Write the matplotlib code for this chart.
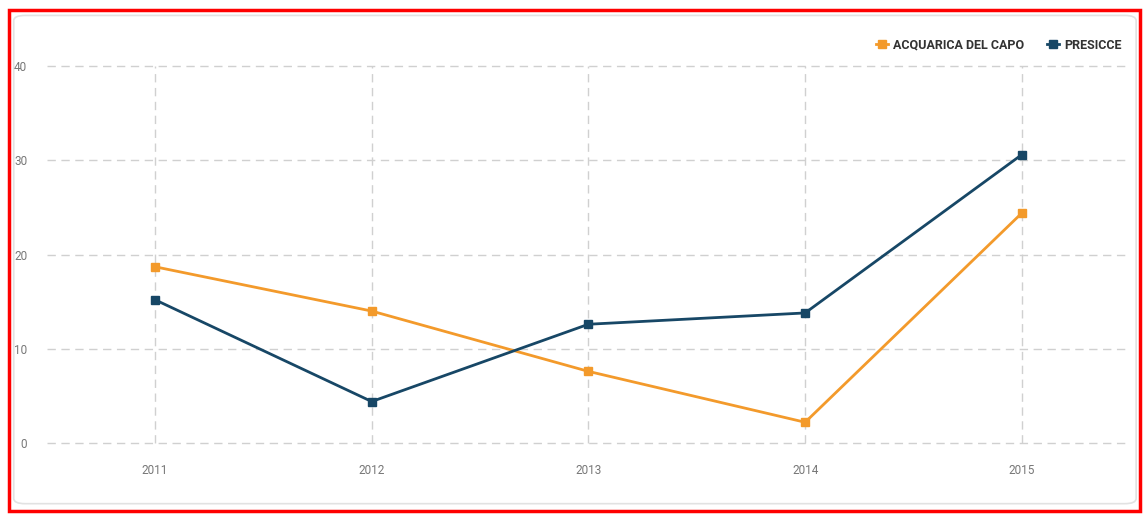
import matplotlib
matplotlib.use("Agg")
import matplotlib.pyplot as plt
from matplotlib.patches import Rectangle, FancyBboxPatch

years = ['2011', '2012', '2013', '2014', '2015']
acquarica = [18.7, 14.0, 7.6, 2.2, 24.4]
presicce = [15.2, 4.4, 12.6, 13.8, 30.6]
yticks = [0, 10, 20, 30, 40]

orange = '#F39A2B'
navy = '#174766'

plt.rcParams['font.family'] = ['Roboto', 'DejaVu Sans']

fig = plt.figure(figsize=(11.43, 5.15), dpi=100)

# red outer border and rounded white panel, kept behind the axes
fig.patches.append(Rectangle((0.008, 0.008), 0.989, 0.973, transform=fig.transFigure,
                             fill=False, edgecolor='#FF0000', linewidth=2.5, zorder=-10))
fig.patches.append(FancyBboxPatch((0.012, 0.022), 0.982, 0.948,
                                  boxstyle='round,pad=0,rounding_size=0.01',
                                  transform=fig.transFigure, facecolor='white',
                                  edgecolor='#E2E2E2', linewidth=1.2, zorder=-9))

ax = fig.add_axes([0.0408, 0.1398, 0.948, 0.732])
ax.set_facecolor('none')
x = range(len(years))
ax.plot(x, acquarica, color=orange, lw=2, marker='s', ms=6, label='ACQUARICA DEL CAPO', zorder=3)
ax.plot(x, presicce, color=navy, lw=2, marker='s', ms=6, label='PRESICCE', zorder=3)

ax.set_xlim(-0.5, 4.5)
ax.set_ylim(0, 40)
ax.set_xticks(list(x))
ax.set_xticklabels(years)
ax.set_yticks(yticks)
ax.grid(True, color='#D0D0D0', linestyle=(0, (6, 4)), linewidth=1)
for gl in ax.get_xgridlines() + ax.get_ygridlines():
    gl.set_clip_on(False)
ax.set_axisbelow(True)
for s in ax.spines.values():
    s.set_visible(False)
ax.tick_params(axis='both', length=0, labelsize=8.5, colors='#777777')
ax.tick_params(axis='x', pad=15)
ax.tick_params(axis='y', pad=14)

leg = ax.legend(loc='lower right', bbox_to_anchor=(0.997, 1.025), ncol=2, frameon=False,
                fontsize=9, handlelength=1.0, handletextpad=0.4, columnspacing=1.8,
                borderaxespad=0)
for t in leg.get_texts():
    t.set_fontweight('bold')
    t.set_color('#333333')

fig.savefig('out.png', dpi=100)
